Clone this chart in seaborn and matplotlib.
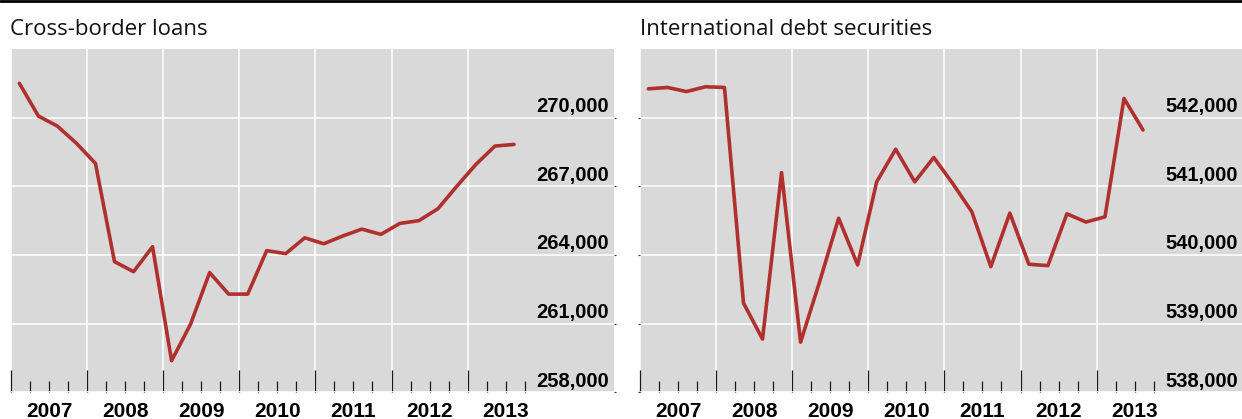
import numpy as np
import pandas as pd
import matplotlib
matplotlib.use("Agg")
import matplotlib.pyplot as plt
from matplotlib.lines import Line2D
from matplotlib.ticker import FixedLocator, NullFormatter
import seaborn as sns

# Quarterly observations, 2007Q1 to 2013Q3
quarters = pd.period_range("2007Q1", "2013Q3", freq="Q").astype(str).tolist()

loans = [271500, 270070, 269630, 268880,
         268000, 263710, 263270, 264360,
         259380, 260980, 263230, 262290,
         262290, 264190, 264060, 264750,
         264490, 264830, 265130, 264900,
         265380, 265500, 266020, 267010,
         267960, 268760, 268830]

securities = [542420, 542440, 542380, 542450,
              542440, 539300, 538775, 541200,
              538730, 539610, 540535, 539855,
              541065, 541540, 541065, 541420,
              541040, 540630, 539830, 540610,
              539865, 539845, 540600, 540480,
              540555, 542280, 541820]

years = [2007, 2008, 2009, 2010, 2011, 2012, 2013]
loan_ticks = [258000, 261000, 264000, 267000, 270000]
sec_ticks = [538000, 539000, 540000, 541000, 542000]

titles = ["Cross-border loans", "International debt securities"]

LINE = "#B0302E"
PANEL = "#D9D9D9"

sns.set_theme(style="white")
plt.rcParams["font.family"] = ["Liberation Sans", "DejaVu Sans"]

W, H = 1242, 419
fig = plt.figure(figsize=(W / 100, H / 100), dpi=100)

# thick rule across the top of the figure
fig.add_artist(Line2D([0, 1], [1 - 1.35 / H] * 2, color="black", lw=2.0,
                      transform=fig.transFigure))


def quarter_pos(q):
    year = int(q[:4])
    qn = int(q[-1])
    return year + (qn - 1) / 4 + 0.11


def panel(left_px, values, ticks, ylim, title, tick_side):
    ax = fig.add_axes([left_px / W, (H - 392.3) / H, 603 / W, 343.3 / H])
    ax.set_facecolor(PANEL)
    df = pd.DataFrame({"pos": [quarter_pos(q) for q in quarters],
                       "value": values})
    sns.lineplot(data=df, x="pos", y="value", ax=ax, color=LINE,
                 linewidth=2.6, legend=False)
    ax.set_xlim(2007.0, 2007.0 + 603 / 76.1)
    ax.set_ylim(*ylim)
    ax.set_xlabel("")
    ax.set_ylabel("")
    for s in ax.spines.values():
        s.set_visible(False)

    # year boundaries as long ticks, quarters as short ones
    ax.xaxis.set_major_locator(FixedLocator(years))
    minor = [y + k / 4 for y in years for k in (1, 2, 3)]
    ax.xaxis.set_minor_locator(FixedLocator(minor))
    ax.xaxis.set_major_formatter(NullFormatter())
    ax.tick_params(axis="x", which="major", direction="in", length=15.8,
                   width=0.9, color="#1a1a1a", bottom=True)
    ax.tick_params(axis="x", which="minor", direction="in", length=7.9,
                   width=0.9, color="#1a1a1a", bottom=True)

    ax.yaxis.set_major_locator(FixedLocator(ticks))
    ax.yaxis.set_major_formatter(NullFormatter())
    ax.tick_params(axis="y", which="major", direction="out", length=1.5,
                   width=0.8, color="#333333", left=(tick_side == "left"),
                   right=(tick_side == "right"))

    ax.grid(True, axis="both", which="major", color="white", linewidth=1.1)

    for y in years:
        ax.text(y + 0.5, -25 / 343.3, str(y), transform=ax.get_xaxis_transform(),
                ha="center", va="baseline", fontsize=15, fontweight="bold",
                color="black")
    for t in ticks:
        ax.annotate(f"{t:,}", xy=(0.992, t), xycoords=("axes fraction", "data"),
                    xytext=(0, 4), textcoords="offset points", ha="right",
                    va="baseline", fontsize=14.5, fontweight="bold", color="black")

    fig.text((left_px - 0.5) / W, 1 - 35 / H, title, ha="left", va="baseline",
             fontsize=16, family=["Open Sans", "DejaVu Sans"], color="#111111")
    return ax


panel(11, loans, loan_ticks, (258000, 273000), titles[0], "right")
panel(640, securities, sec_ticks, (538000, 543000), titles[1], "left")

fig.savefig("out.png", dpi=100, facecolor="white")
